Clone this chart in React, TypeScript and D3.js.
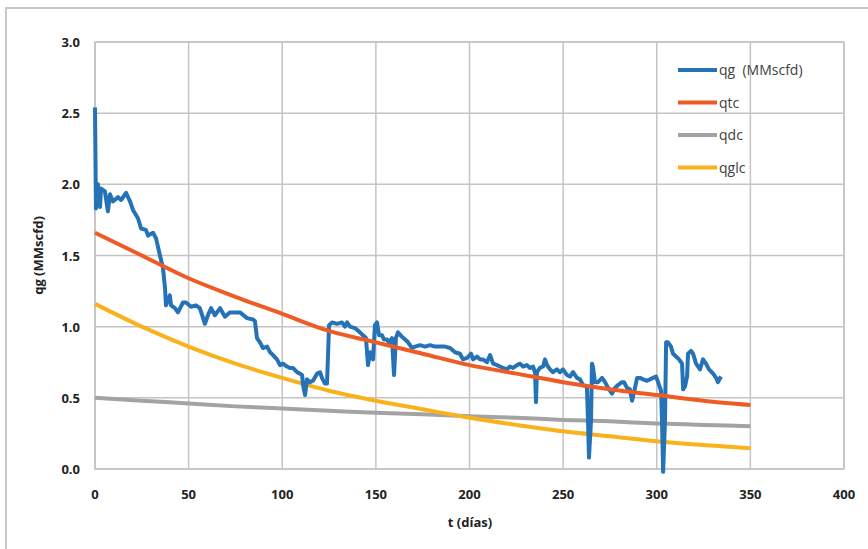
import React from 'react'
import * as d3 from 'd3'

const qgSeries: [number, number][] = [
  [0, 2.54], [0.5, 1.83], [1.6, 2.0], [2.7, 1.84], [3.2, 1.97], [5.3, 1.95], [6.9, 1.81],
  [8.0, 1.93], [9.6, 1.88], [12.3, 1.91], [13.9, 1.89], [16.6, 1.94], [18.7, 1.88], [20.3, 1.82],
  [23, 1.76], [24.6, 1.69], [27.2, 1.68], [28.3, 1.64], [31, 1.66], [32.6, 1.62], [34.7, 1.5],
  [36.3, 1.41], [37.4, 1.27], [37.9, 1.15], [40, 1.22], [40.6, 1.15], [42.7, 1.13], [44.3, 1.1],
  [47, 1.17], [48.6, 1.17], [51.3, 1.14], [53.9, 1.15], [56, 1.13], [58.7, 1.02], [60.3, 1.08],
  [62, 1.13], [64, 1.08], [66.8, 1.13], [69.4, 1.07], [72, 1.1], [74.8, 1.1], [77.4, 1.1],
  [81.2, 1.06], [84.4, 1.05], [85.4, 1.04], [86.5, 0.92], [88.1, 0.89], [89.7, 0.85], [91.9, 0.86],
  [93.5, 0.82], [95.1, 0.8], [97.2, 0.77], [98.8, 0.73], [100.4, 0.74], [102.5, 0.72], [104.1, 0.71],
  [105.7, 0.71], [107.9, 0.68], [109.5, 0.67], [110.6, 0.66], [111.1, 0.59], [112.2, 0.52],
  [113.2, 0.63], [114.8, 0.61], [116.4, 0.62], [118.6, 0.67], [120.2, 0.68], [121.2, 0.64],
  [122.8, 0.6], [123.9, 0.6], [125, 1.01], [126.6, 1.03], [129.2, 1.02], [131.9, 1.03],
  [133.5, 1.0], [134.6, 1.03], [136.2, 1.0], [138.8, 0.99], [141.5, 0.96], [143.1, 0.94],
  [144.7, 0.92], [145.8, 0.73], [146.9, 0.82], [148.5, 0.77], [149.5, 1.01], [150.6, 1.03],
  [151.7, 0.94], [153.3, 0.94], [154.3, 0.91], [155.9, 0.91], [157, 0.89], [158.6, 0.92],
  [159.7, 0.66], [160.7, 0.92], [161.8, 0.96], [163.9, 0.93], [165.6, 0.91], [167.2, 0.89],
  [169.3, 0.85], [170.9, 0.86], [173.6, 0.87], [176.2, 0.86], [178.9, 0.87], [181.6, 0.86],
  [184.2, 0.86], [186.9, 0.86], [189.6, 0.85], [192.3, 0.82], [194.9, 0.81], [196.5, 0.77],
  [198.7, 0.78], [200.8, 0.81], [201.9, 0.77], [204, 0.79], [205.6, 0.77], [207.2, 0.77],
  [209.3, 0.75], [211, 0.8], [212.6, 0.74], [214.7, 0.73], [216.3, 0.72], [217.9, 0.71],
  [220, 0.7], [221.6, 0.72], [223.2, 0.71], [225.4, 0.73], [227, 0.74], [228.6, 0.72],
  [230.7, 0.73], [232.3, 0.71], [233.9, 0.72], [235, 0.68], [235.5, 0.47], [236, 0.68],
  [237.6, 0.71], [239.3, 0.72], [240.3, 0.77], [241.4, 0.73], [243, 0.7], [244.6, 0.68],
  [246.7, 0.7], [248.3, 0.68], [249.9, 0.7], [252.1, 0.66], [253.7, 0.65], [255.3, 0.68],
  [257.4, 0.64], [259, 0.63], [260.6, 0.59], [262.7, 0.58], [263.3, 0.34], [263.8, 0.08],
  [264.9, 0.34], [265.4, 0.74], [265.9, 0.72], [267, 0.61], [268.6, 0.61], [270.8, 0.64],
  [272.4, 0.61], [274, 0.57], [276.1, 0.53], [277.7, 0.57], [279.3, 0.59], [281.4, 0.61],
  [282.5, 0.61], [284.1, 0.57], [285.7, 0.56], [286.8, 0.48], [287.9, 0.54], [289.5, 0.64],
  [291.1, 0.64], [292.7, 0.63], [294.8, 0.62], [296.4, 0.63], [298, 0.64], [299.6, 0.65],
  [300.7, 0.61], [302.3, 0.55], [302.8, 0.34], [303.4, -0.02], [304.4, 0.34], [305, 0.89],
  [306, 0.89], [307.6, 0.86], [308.7, 0.81], [310.3, 0.79], [311.9, 0.77], [313.5, 0.74],
  [314.1, 0.56], [315.1, 0.58], [316.2, 0.65], [316.7, 0.81], [318.3, 0.83], [319.4, 0.81],
  [321, 0.74], [323.1, 0.7], [324.7, 0.77], [326.3, 0.74], [327.9, 0.7], [330.1, 0.67],
  [331.7, 0.64], [332.7, 0.61], [334.3, 0.65],
]

// fitted curves, sampled every 25 days
const curveT = [0, 25, 50, 75, 100, 125, 150, 175, 200, 225, 250, 275, 300, 325, 350]
const qtc = [1.66, 1.5, 1.34, 1.21, 1.09, 0.97, 0.89, 0.81, 0.73, 0.67, 0.61, 0.56, 0.52, 0.48, 0.45]
const qdc = [0.5, 0.48, 0.46, 0.44, 0.425, 0.41, 0.395, 0.385, 0.37, 0.36, 0.345, 0.335, 0.32, 0.31, 0.3]
const qglc = [1.16, 1.0, 0.86, 0.74, 0.64, 0.55, 0.48, 0.42, 0.36, 0.31, 0.265, 0.23, 0.195, 0.168, 0.145]

const xTicks = [0, 50, 100, 150, 200, 250, 300, 350, 400]
const yTicks = [0, 0.5, 1.0, 1.5, 2.0, 2.5, 3.0]

const legendItems = [
  { label: 'qg  (MMscfd)', color: '#2573B6' },
  { label: 'qtc', color: '#EF5B25' },
  { label: 'qdc', color: '#A3A3A3' },
  { label: 'qglc', color: '#F9B21C' },
]

export default function App() {
  const width = 868
  const height = 549
  const left = 95, right = 844, top = 42, bottom = 469

  const x = d3.scaleLinear().domain([0, 400]).range([left, right])
  const y = d3.scaleLinear().domain([0, 3]).range([bottom, top])

  const rawLine = d3.line<[number, number]>()
    .x(d => x(d[0]))
    .y(d => y(d[1]))

  const smooth = d3.line<number>()
    .x((_, i) => x(curveT[i]))
    .y(d => y(d))
    .curve(d3.curveMonotoneX)

  const font = "'Open Sans', 'Noto Sans', sans-serif"
  const grid = '#c4c4c4'

  return (
    <svg width={width} height={height} style={{ position: 'absolute', left: 0, top: 0 }}
      fontFamily={font}>
      <rect x={0} y={0} width={width} height={height} fill="#fff" />
      <rect x={6} y={8} width={width + 20} height={height + 20} fill="none" stroke="#c8c8c8" strokeWidth={2} />

      {xTicks.map(t => (
        <line key={'gx' + t} x1={x(t)} x2={x(t)} y1={top} y2={bottom} stroke={grid} strokeWidth={1.5} />
      ))}
      {yTicks.map(v => (
        <line key={'gy' + v} x1={left} x2={right} y1={y(v)} y2={y(v)} stroke={grid} strokeWidth={1.5} />
      ))}
      <rect x={left} y={top} width={right - left} height={bottom - top} fill="none" stroke={grid} strokeWidth={1.5} />

      <path d={smooth(qdc) ?? ''} fill="none" stroke={legendItems[2].color} strokeWidth={4} />
      <path d={smooth(qglc) ?? ''} fill="none" stroke={legendItems[3].color} strokeWidth={4} />
      <path d={rawLine(qgSeries) ?? ''} fill="none" stroke={legendItems[0].color} strokeWidth={4}
        strokeLinejoin="round" />
      <path d={smooth(qtc) ?? ''} fill="none" stroke={legendItems[1].color} strokeWidth={4} />

      {yTicks.map(v => (
        <text key={'ty' + v} x={80} y={y(v) + 5} textAnchor="end" fontSize={13} fontWeight="bold" fill="#222">
          {v.toFixed(1)}
        </text>
      ))}
      {xTicks.map(t => (
        <text key={'tx' + t} x={x(t)} y={499} textAnchor="middle" fontSize={13} fontWeight="bold" fill="#222">
          {t}
        </text>
      ))}
      <text x={470} y={527} textAnchor="middle" fontSize={13} fontWeight="bold" fill="#222">t (días)</text>
      <text transform={`translate(43,${(top + bottom) / 2}) rotate(-90)`} textAnchor="middle" fontSize={13}
        fontWeight="bold" fill="#222">qg (MMscfd)</text>

      {legendItems.map((it, i) => {
        const ly = 70 + i * 32.5
        return (
          <g key={it.label}>
            <line x1={678} x2={717} y1={ly} y2={ly} stroke={it.color} strokeWidth={4} />
            <text x={719} y={ly + 5} fontSize={14} fill="#404040" style={{ whiteSpace: 'pre' }}>{it.label}</text>
          </g>
        )
      })}
    </svg>
  )
}
